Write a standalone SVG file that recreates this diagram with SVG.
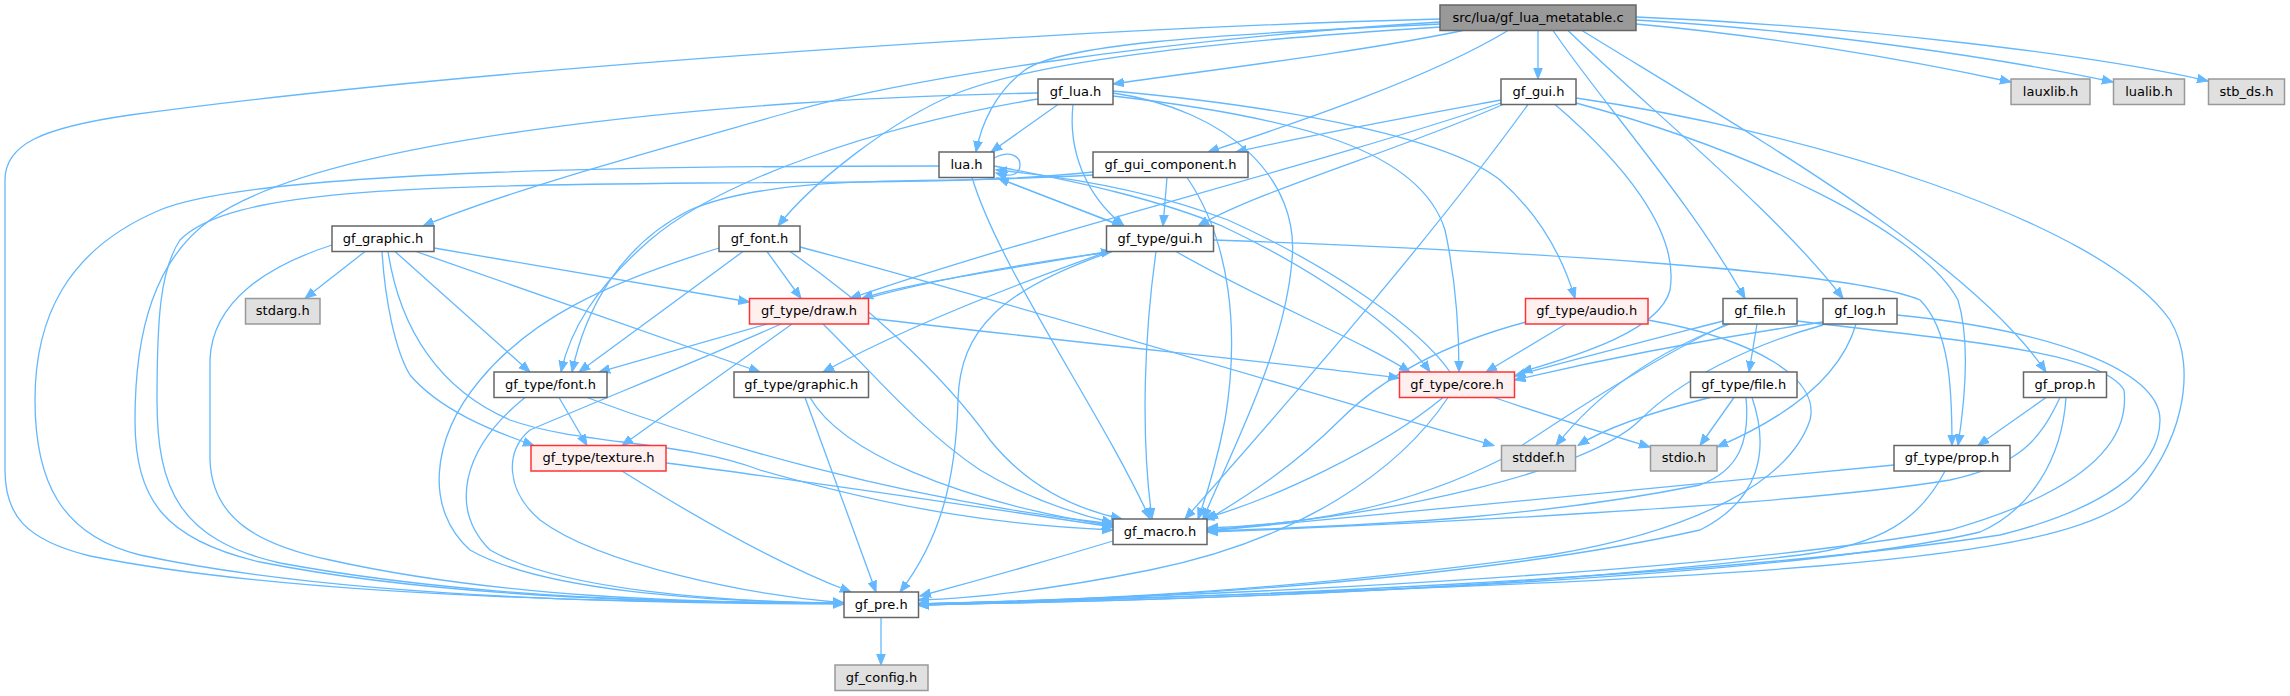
<svg xmlns="http://www.w3.org/2000/svg" width="2290" height="696" viewBox="0 0 2290 696">
<defs>
<marker id="arr" markerUnits="userSpaceOnUse" markerWidth="13" markerHeight="10" viewBox="0 -5 13 10" refX="11" refY="0" orient="auto">
<path d="M0,-4.3 L11,0 L0,4.3 z" fill="#63b8ff" stroke="#63b8ff" stroke-width="1"/>
</marker>
<style>
.e{fill:none;stroke:#63b8ff;stroke-width:1.3;marker-end:url(#arr)}
.n rect{fill:#ffffff;stroke:#666666;stroke-width:1.5}
.g rect{fill:#e0e0e0;stroke:#999999;stroke-width:1.5}
.r rect{fill:#fff0f0;stroke:#ff3333;stroke-width:1.5}
.root rect{fill:#999999;stroke:#666666;stroke-width:1.5}
text{font-family:"DejaVu Sans","Liberation Sans",sans-serif;font-size:13px;text-anchor:middle;fill:#000000}
</style>
</defs>
<rect width="2290" height="696" fill="#ffffff"/>
<g id="edges">
<path class="e" d="M1440,19 C1100,28 500,65 130,115 C40,128 5,145 5,180 L5,470 C5,515 25,540 90,556 C300,598 650,603 844,603"/>
<path class="e" d="M1440,22 C1150,40 900,80 790,112 C650,152 510,190 423,226"/>
<path class="e" d="M1441,27 C1200,42 1040,62 960,92 C890,120 810,185 778,226"/>
<path class="e" d="M1440,24 C1200,35 1060,45 1025,70 C995,92 981,125 976,152"/>
<path class="e" d="M1463,30.5 C1360,52 1210,70 1113,84"/>
<path class="e" d="M1508,30.5 C1430,78 1290,125 1208,152"/>
<path class="e" d="M1538,30.5 L1538,79"/>
<path class="e" d="M1553,30.5 C1600,100 1690,200 1745,298.5"/>
<path class="e" d="M1568,30.5 C1650,110 1780,215 1843,298.5"/>
<path class="e" d="M1582,30.5 C1760,140 1970,260 2046,372"/>
<path class="e" d="M1636,24 C1760,35 1900,58 2011,82"/>
<path class="e" d="M1636,20 C1810,30 2000,58 2113,82"/>
<path class="e" d="M1636,17 C1860,26 2100,56 2208,81"/>
<path class="e" d="M1058,104.5 L991,152"/>
<path class="e" d="M1073,104.5 C1068,150 1085,195 1124,226"/>
<path class="e" d="M1038,93 C700,100 320,140 210,220 C155,260 135,330 135,420 C135,500 165,540 260,562 C450,600 700,603 844,603"/>
<path class="e" d="M1038,99 C880,125 720,180 650,240 C595,288 570,330 561,372"/>
<path class="e" d="M1113,93 C1230,110 1300,180 1292,260 C1285,350 1232,450 1203,519"/>
<path class="e" d="M1113,96 C1300,118 1420,150 1445,230 C1458,290 1459,340 1459,372"/>
<path class="e" d="M1113,91 C1300,108 1450,140 1500,180 C1540,215 1562,255 1575,298.5"/>
<path class="e" d="M994,158 C1010,150 1020,156 1020,165 C1020,174 1012,178 996,173"/>
<path class="e" d="M939,166 C700,166 260,168 160,210 C65,250 35,320 35,400 C35,480 60,535 140,555 C350,600 680,604 844,604"/>
<path class="e" d="M972,177.5 C1000,270 1100,410 1150,519"/>
<path class="e" d="M996,177.5 L1123,226"/>
<path class="e" d="M1121,226 L998,178"/>
<path class="e" d="M994,166 C1080,182 1160,200 1222,226 C1320,272 1400,330 1430,372"/>
<path class="e" d="M1450,372 C1420,328 1330,266 1228,220 C1160,194 1080,178 996,170"/>
<path class="e" d="M1167,177.5 L1163,226"/>
<path class="e" d="M1187,177.5 C1230,240 1240,330 1225,420 C1215,470 1205,500 1198,519"/>
<path class="e" d="M1093,172 C1000,182 900,182 700,183 C400,186 230,190 180,240 C160,270 157,320 157,400 C157,490 180,540 280,563 C480,600 700,603 844,603"/>
<path class="e" d="M1093,175 C1040,178 1000,179 960,180 C880,181 760,180 690,210 C620,245 585,310 572,372"/>
<path class="e" d="M1501,100 C1420,115 1310,135 1236,152"/>
<path class="e" d="M1503,104.5 C1400,150 1260,190 1198,226"/>
<path class="e" d="M1501,103 C1300,170 1050,230 850,298.5"/>
<path class="e" d="M1555,104.5 C1620,160 1680,230 1670,290 C1660,330 1580,355 1521,372"/>
<path class="e" d="M1528,104.5 C1430,240 1290,400 1185,519"/>
<path class="e" d="M1576,98 C1800,130 2100,220 2170,320 C2200,370 2180,450 2130,500 C2050,560 1800,580 918,604"/>
<path class="e" d="M1576,103 C1750,150 1920,230 1958,300 C1970,340 1965,400 1958,445.5"/>
<path class="e" d="M365,251.5 L305,298.5"/>
<path class="e" d="M332,245 C270,265 212,300 210,360 L210,460 C212,520 260,545 330,560 C500,598 700,603 844,603"/>
<path class="e" d="M382,251.5 C385,300 395,350 410,375 C440,410 490,430 534,445.5"/>
<path class="e" d="M388,251.5 C400,330 440,390 510,420 C580,445 680,440 760,470 C900,510 1000,525 1113,530"/>
<path class="e" d="M395,251.5 L530,372"/>
<path class="e" d="M416,251.5 L760,372"/>
<path class="e" d="M434,248 L749.5,302"/>
<path class="e" d="M719,248 C600,285 530,320 480,380 C430,440 425,510 470,550 C540,590 700,602 844,603"/>
<path class="e" d="M743,251.5 L579,372"/>
<path class="e" d="M767,251.5 L801,298.5"/>
<path class="e" d="M790,251.5 C860,300 940,370 990,440 C1030,490 1080,510 1122,519"/>
<path class="e" d="M800,247 C1000,300 1300,390 1494,445.5"/>
<path class="e" d="M1110,251.5 C1000,270 900,285 862,298.5"/>
<path class="e" d="M866,298.5 C950,275 1050,260 1112,251.5"/>
<path class="e" d="M1156,251.5 C1145,330 1140,430 1152,519"/>
<path class="e" d="M1176,251.5 C1260,300 1360,340 1410,372"/>
<path class="e" d="M1108,251.5 C1000,290 900,330 823,372"/>
<path class="e" d="M1112,251.5 C1000,290 960,330 958,400 C956,480 940,540 900,592"/>
<path class="e" d="M1213.5,240 C1500,250 1850,270 1920,300 C1950,330 1952,390 1952,445.5"/>
<path class="e" d="M767,324 L599,372"/>
<path class="e" d="M792,324 L622,445.5"/>
<path class="e" d="M781,324 C700,360 600,400 530,430 C505,450 505,490 540,520 C600,565 750,595 844,603"/>
<path class="e" d="M823,324 C870,370 920,430 980,470 C1030,500 1080,515 1113,523"/>
<path class="e" d="M868.5,318 C1050,340 1300,365 1399.5,378"/>
<path class="e" d="M805,397.5 L876,592"/>
<path class="e" d="M810,397.5 C840,450 950,500 1113,526"/>
<path class="e" d="M666,463 C800,480 1000,510 1113,527"/>
<path class="e" d="M622,471 C700,520 780,565 851,592"/>
<path class="e" d="M559,397.5 L587,445.5"/>
<path class="e" d="M525,397.5 C460,450 450,510 490,550 C560,590 720,602 844,603"/>
<path class="e" d="M587,397.5 C700,440 900,500 1113,524"/>
<path class="e" d="M1443,397.5 C1380,450 1270,500 1203,519"/>
<path class="e" d="M1448,397.5 C1400,470 1300,540 1150,570 C1050,590 980,598 918,600"/>
<path class="e" d="M1494,397.5 C1560,420 1610,435 1650,447"/>
<path class="e" d="M1566,324 L1486,372"/>
<path class="e" d="M1526,322 C1440,345 1380,380 1340,420 C1290,470 1240,500 1207,520"/>
<path class="e" d="M1648,320 C1760,340 1820,380 1810,420 C1790,480 1700,530 1550,555 C1300,590 1100,600 918,604"/>
<path class="e" d="M1723,321 C1650,340 1580,358 1514.5,376"/>
<path class="e" d="M1727,324 C1650,360 1560,420 1500,460 C1400,510 1300,525 1207,528"/>
<path class="e" d="M1730,324 C1660,350 1600,390 1556,445.5"/>
<path class="e" d="M1757,324 L1749,372"/>
<path class="e" d="M1797,321 C1950,340 2100,350 2124,390 C2130,440 2090,490 1950,530 C1700,575 1200,596 918,604"/>
<path class="e" d="M1823,322 C1700,340 1600,360 1514.5,380"/>
<path class="e" d="M1856,324 C1840,380 1780,420 1717,447"/>
<path class="e" d="M1823,325 C1750,345 1680,380 1640,420 C1590,470 1400,515 1207,530"/>
<path class="e" d="M1897,315 C2050,330 2160,370 2160,420 C2160,470 2100,510 2000,535 C1700,580 1200,598 918,605"/>
<path class="e" d="M1734,397.5 L1700,445.5"/>
<path class="e" d="M1710,397.5 C1660,410 1610,425 1578,445.5"/>
<path class="e" d="M1746,397.5 C1750,440 1740,470 1700,485 C1550,515 1400,525 1207,531"/>
<path class="e" d="M1752,397.5 C1770,450 1760,500 1700,530 C1500,575 1200,598 918,605"/>
<path class="e" d="M2046,397.5 L1978,445.5"/>
<path class="e" d="M2066,397.5 C2062,460 2030,510 1980,532 C1800,575 1300,598 918,605"/>
<path class="e" d="M2060,397.5 C2040,440 2020,465 1950,480 C1800,505 1400,525 1207,532"/>
<path class="e" d="M1894,465 C1750,478 1500,505 1207,531"/>
<path class="e" d="M1945,471 C1920,520 1880,545 1800,555 C1500,590 1200,600 918,605"/>
<path class="e" d="M1113,541 C1050,560 980,580 920,596"/>
<path class="e" d="M881,617.5 L881,665"/>
</g>
<g id="n_root" class="root"><rect x="1440" y="5" width="196" height="25.5"/><text x="1538" y="21.5">src/lua/gf_lua_metatable.c</text></g>
<g id="n_gf_lua" class="n"><rect x="1038" y="79" width="75" height="25.5"/><text x="1075.5" y="95.5">gf_lua.h</text></g>
<g id="n_gf_gui" class="n"><rect x="1501" y="79" width="75" height="25.5"/><text x="1538.5" y="95.5">gf_gui.h</text></g>
<g id="n_lauxlib" class="g"><rect x="2011" y="79" width="79" height="25.5"/><text x="2050.5" y="95.5">lauxlib.h</text></g>
<g id="n_lualib" class="g"><rect x="2113.5" y="79" width="71" height="25.5"/><text x="2149" y="95.5">lualib.h</text></g>
<g id="n_stb_ds" class="g"><rect x="2208.5" y="79" width="76" height="25.5"/><text x="2246.5" y="95.5">stb_ds.h</text></g>
<g id="n_lua" class="n"><rect x="939" y="152" width="55" height="25.5"/><text x="966.5" y="168.5">lua.h</text></g>
<g id="n_gui_component" class="n"><rect x="1093" y="152" width="155" height="25.5"/><text x="1170.5" y="168.5">gf_gui_component.h</text></g>
<g id="n_gf_graphic" class="n"><rect x="332" y="226" width="102" height="25.5"/><text x="383" y="242.5">gf_graphic.h</text></g>
<g id="n_gf_font" class="n"><rect x="719" y="226" width="81" height="25.5"/><text x="759.5" y="242.5">gf_font.h</text></g>
<g id="n_type_gui" class="n"><rect x="1106.5" y="226" width="107" height="25.5"/><text x="1160" y="242.5">gf_type/gui.h</text></g>
<g id="n_stdarg" class="g"><rect x="245.5" y="298.5" width="74.5" height="25.5"/><text x="282.75" y="315">stdarg.h</text></g>
<g id="n_type_draw" class="r"><rect x="749.5" y="298.5" width="119" height="25.5"/><text x="809" y="315">gf_type/draw.h</text></g>
<g id="n_type_audio" class="r"><rect x="1525.5" y="298.5" width="122.5" height="25.5"/><text x="1586.75" y="315">gf_type/audio.h</text></g>
<g id="n_gf_file" class="n"><rect x="1723" y="298.5" width="74" height="25.5"/><text x="1760" y="315">gf_file.h</text></g>
<g id="n_gf_log" class="n"><rect x="1823" y="298.5" width="74" height="25.5"/><text x="1860" y="315">gf_log.h</text></g>
<g id="n_type_font" class="n"><rect x="494" y="372" width="113" height="25.5"/><text x="550.5" y="388.5">gf_type/font.h</text></g>
<g id="n_type_graphic" class="n"><rect x="734" y="372" width="134.5" height="25.5"/><text x="801.25" y="388.5">gf_type/graphic.h</text></g>
<g id="n_type_core" class="r"><rect x="1399.5" y="372" width="115" height="25.5"/><text x="1457" y="388.5">gf_type/core.h</text></g>
<g id="n_type_file" class="n"><rect x="1690.5" y="372" width="106.5" height="25.5"/><text x="1743.75" y="388.5">gf_type/file.h</text></g>
<g id="n_gf_prop" class="n"><rect x="2023.5" y="372" width="83" height="25.5"/><text x="2065" y="388.5">gf_prop.h</text></g>
<g id="n_type_texture" class="r"><rect x="531" y="445.5" width="135" height="25.5"/><text x="598.5" y="462">gf_type/texture.h</text></g>
<g id="n_stddef" class="g"><rect x="1501.5" y="445.5" width="74" height="25.5"/><text x="1538.5" y="462">stddef.h</text></g>
<g id="n_stdio" class="g"><rect x="1650.5" y="445.5" width="66.5" height="25.5"/><text x="1683.75" y="462">stdio.h</text></g>
<g id="n_type_prop" class="n"><rect x="1894" y="445.5" width="116" height="25.5"/><text x="1952" y="462">gf_type/prop.h</text></g>
<g id="n_gf_macro" class="n"><rect x="1113" y="519" width="94" height="25.5"/><text x="1160" y="535.5">gf_macro.h</text></g>
<g id="n_gf_pre" class="n"><rect x="844" y="592" width="74.5" height="25.5"/><text x="881.25" y="608.5">gf_pre.h</text></g>
<g id="n_gf_config" class="g"><rect x="835" y="665" width="93" height="25.5"/><text x="881.5" y="681.5">gf_config.h</text></g>
</svg>
